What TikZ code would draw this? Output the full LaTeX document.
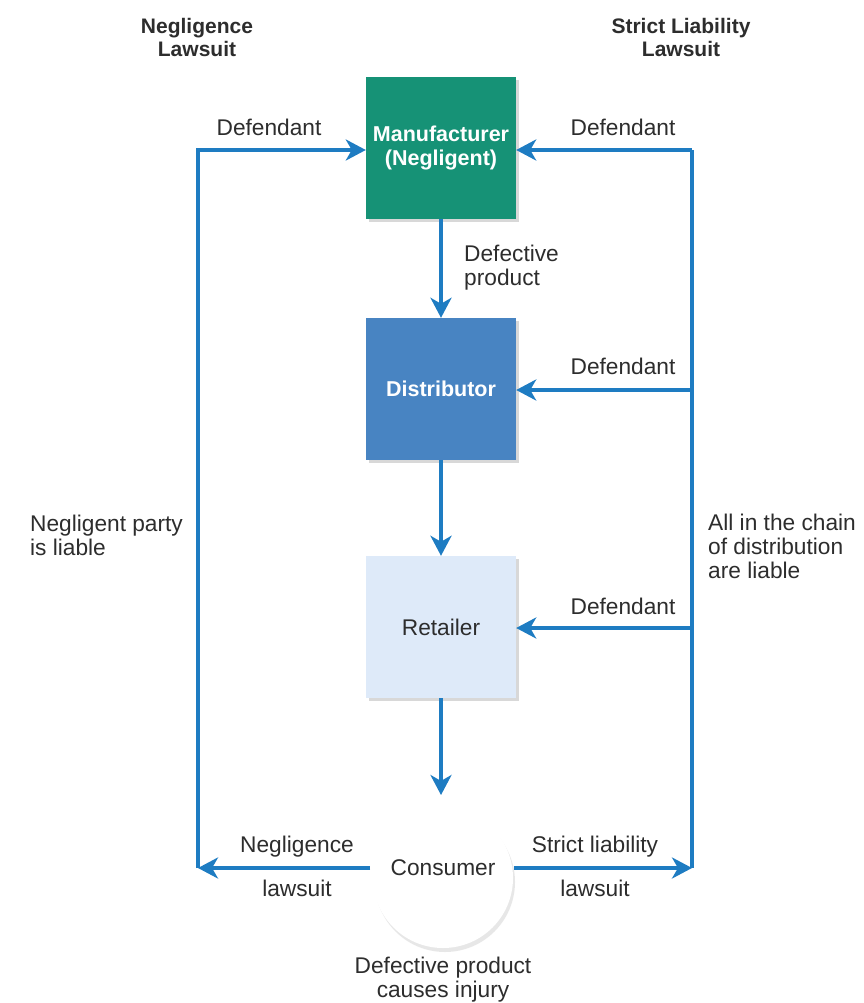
\documentclass[tikz,border=0pt]{standalone}
\usepackage{fontspec}
\setmainfont{Liberation Sans}
\usetikzlibrary{arrows.meta,shadows,calc}
\definecolor{flow}{RGB}{30,124,194}
\definecolor{mfg}{RGB}{22,146,118}
\definecolor{dist}{RGB}{72,132,194}
\definecolor{ret}{RGB}{222,234,249}
\definecolor{ink}{RGB}{45,45,45}
\tikzset{
  stage/.style={minimum width=150pt, minimum height=142pt, inner sep=0pt, align=center,
    drop shadow={shadow xshift=3pt, shadow yshift=-3pt, fill=black!25, opacity=0.6}},
  flowline/.style={draw=flow, line width=3.6pt},
  flowarrow/.style={flowline, -{Stealth[length=20pt, width=21pt, inset=6pt]}},
  lbl/.style={font=\fontsize{22.7}{24}\selectfont, text=ink, inner sep=0pt},
  head/.style={font=\fontsize{21}{23}\selectfont\bfseries, text=ink, inner sep=0pt, align=center}
}
\begin{document}
\begin{tikzpicture}[x=1pt,y=-1pt]
\useasboundingbox (0,0) rectangle (863,1003);
\fill[white] (0,0) rectangle (863,1003);

% column headings
\node[head] (hneg) at (197,37) {Negligence\\Lawsuit};
\node[head] (hstr) at (681,37) {Strict Liability\\Lawsuit};

% chain of distribution
\node[stage, fill=mfg, text=white, font=\fontsize{21.5}{24}\selectfont\bfseries] (man) at (441,148) {Manufacturer\\(Negligent)};
\node[stage, fill=dist, text=white, font=\fontsize{21.5}{24}\selectfont\bfseries] (dis) at (441,389) {Distributor};
\node[stage, fill=ret, text=ink, font=\fontsize{22.7}{24}\selectfont] (ret) at (441,627) {Retailer};
\node[circle, minimum size=140pt, fill=white, inner sep=0pt,
  drop shadow={shadow xshift=2pt, shadow yshift=-4pt, fill=black!18, opacity=0.5}] (con) at (443,878) {};
\node[lbl] (contxt) at (443,868) {Consumer};

% corner points of the two lawsuit paths
\coordinate (ltop) at (198,150);
\coordinate (lbot) at (198,868);
\coordinate (rtop) at (692,150);
\coordinate (rbot) at (692,868);
\coordinate (rdis) at (692,390);
\coordinate (rret) at (692,628);
\coordinate (conL) at (370,868);
\coordinate (conR) at (514,868);
\coordinate (conTop) at (441,795);

% product flow
\draw[flowarrow] (man.south) -- (dis.north);
\draw[flowarrow] (dis.south) -- (ret.north);
\draw[flowarrow] (ret.south) -- (conTop);

% negligence lawsuit
\draw[flowarrow] (conL) -- (lbot);
\draw[flowarrow] (lbot) -- (ltop) -- (ltop -| man.west);

% strict liability lawsuit
\draw[flowarrow] (conR) -- (rbot);
\draw[flowline] (rbot) -- (rtop);
\draw[flowarrow] (rtop) -- (rtop -| man.east);
\draw[flowarrow] (rdis) -- (rdis -| dis.east);
\draw[flowarrow] (rret) -- (rret -| ret.east);

% labels
\node[lbl] (d1) at (269,127) {Defendant};
\node[lbl] (d2) at (623,127) {Defendant};
\node[lbl] (d3) at (623,366) {Defendant};
\node[lbl] (d4) at (623,606) {Defendant};
\node[lbl, align=left, anchor=west] (dp) at (464,268) {Defective\\product};
\node[lbl, align=left, anchor=west] (np) at (30,535) {Negligent party\\is liable};
\node[lbl, align=left, anchor=west] (ac) at (708,546) {All in the chain\\of distribution\\are liable};
\node[lbl] (nl1) at (297,847) {Negligence};
\node[lbl] (nl2) at (297,888) {lawsuit};
\node[lbl] (sl1) at (595,847) {Strict liability};
\node[lbl] (sl2) at (595,888) {lawsuit};
\node[lbl, align=center] (inj) at (443,980) {Defective product\\causes injury};
\end{tikzpicture}
\end{document}
